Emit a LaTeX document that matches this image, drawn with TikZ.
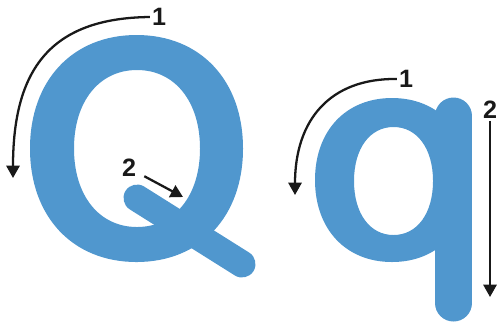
\documentclass[tikz,border=0pt]{standalone}
\usepackage{fontspec}
\setmainfont{Liberation Sans}
\usetikzlibrary{arrows.meta}
\definecolor{ink}{RGB}{25,25,25}
\definecolor{letterblue}{RGB}{80,151,206}
% squarish oval: centre x, centre y, x radius, y radius
\newcommand{\softoval}[4]{%
  ({#1+#3},{#2}) .. controls ({#1+#3},{#2+0.6*#4}) and ({#1+0.6*#3},{#2+#4}) .. ({#1},{#2+#4})
  .. controls ({#1-0.6*#3},{#2+#4}) and ({#1-#3},{#2+0.6*#4}) .. ({#1-#3},{#2})
  .. controls ({#1-#3},{#2-0.6*#4}) and ({#1-0.6*#3},{#2-#4}) .. ({#1},{#2-#4})
  .. controls ({#1+0.6*#3},{#2-#4}) and ({#1+#3},{#2-0.6*#4}) .. ({#1+#3},{#2}) -- cycle}
\tikzset{
    line cap=round,
    line join=round,
    letter/.style={
        fill=letterblue,
        draw=none,
        even odd rule
    },
    letterstroke/.style={
        draw=letterblue,
        line cap=round
    },
    stepnum/.style={
        font=\fontsize{14.3}{16}\selectfont\bfseries,
        text=ink,
        inner sep=1pt
    },
    guide/.style={
        -{Triangle[length=7pt,width=7.5pt]},
        draw=ink,
        line width=1.3pt
    }
}

\begin{document}
\begin{tikzpicture}[x=0.02cm, y=-0.02cm]
\useasboundingbox (0,0) rectangle (502,326);

% === CAPITAL Q ===
\path[letter] \softoval{136.5}{148.5}{106.5}{113.5}
              \softoval{137}{148.5}{63}{78.5};
\draw[letterstroke, line width=0.54cm] (137,198) -- (242,264);

\node[stepnum] (oneQ) at (159,17) {1};
\node[stepnum] (twoQ) at (129,168) {2};
\coordinate (tipQa) at (13,178);
\coordinate (tipQb) at (183,197);

\draw[guide] (oneQ.west) .. controls (50,18) and (13,70) .. (tipQa);
\draw[guide, shorten <=4pt] (twoQ) -- (tipQb);

% === SMALL q ===
\path[letter] \softoval{392}{180}{77}{82}
              \softoval{393.5}{181}{39.5}{54};
\draw[letterstroke, line width=0.74cm] (453.5,116) -- (453.5,303);

\node[stepnum] (oneq) at (406,79) {1};
\node[stepnum] (twoq) at (490,110) {2};
\coordinate (tipqa) at (295,195);
\coordinate (tipqb) at (490,297);

\draw[guide] (oneq.west) .. controls (330,78) and (295,120) .. (tipqa);
\draw[guide] (twoq) -- (tipqb);

\end{tikzpicture}
\end{document}
